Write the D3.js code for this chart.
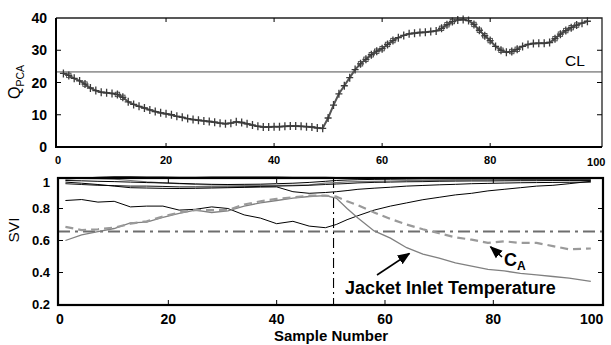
<!DOCTYPE html>
<html><head><meta charset="utf-8">
<script src="https://d3js.org/d3.v7.min.js"></script>
<style>
body{margin:0;background:#fff;}
svg{display:block;font-family:Arial,"Liberation Sans",sans-serif;}
</style></head><body>
<svg id="chart" width="611" height="345"></svg>
<script>
// ---- top panel data: Q statistic per sample ----
var qSamples=d3.range(1,99);
var qValues=[22.8,22.2,21.3,20.5,19.5,18.3,17.5,17.0,16.8,16.6,
  16.3,15.4,14.0,13.2,12.6,12.1,11.5,11.0,10.6,10.3,
  10.0,9.5,9.2,8.8,8.5,8.3,8.1,7.9,7.7,7.4,
  7.2,7.4,7.8,7.6,7.2,6.8,6.4,6.2,6.2,6.3,
  6.3,6.4,6.5,6.5,6.4,6.3,6.2,5.9,5.8,9.0,
  13.0,16.5,19.0,21.5,24.0,25.8,27.2,28.6,29.7,30.5,
  31.8,33.0,33.9,34.6,35.1,35.3,35.5,35.6,35.8,36.0,
  36.8,37.9,38.9,39.4,39.5,39.2,38.0,36.2,34.5,33.0,
  31.2,30.0,29.4,29.6,30.3,31.2,31.8,32.1,32.2,32.2,
  32.4,33.6,35.0,36.1,37.0,37.8,38.4,39.0];
var squareSamples=[2,5,11,12,56,57,58,59,60,61,62,71,72,73,77,78,79,80,82,84,85,92,93,94,95,96];
var controlLimit=23.3;
var qTicksX=[0,20,40,60,80,100];
var qTicksY=[0,10,20,30,40];

// ---- bottom panel data: SVI per variable ----
var sviSamples=[1,4,7,10,13,16,19,22,25,28,31,34,37,40,43,46,49,51,53,55,58,61,64,67,70,73,76,79,82,85,88,91,94,98];
var sviJacket=[0.60,0.635,0.655,0.675,0.71,0.715,0.745,0.77,0.79,0.775,0.785,0.815,0.835,0.85,0.865,0.875,0.88,0.865,0.80,0.74,
  0.66,0.615,0.555,0.515,0.49,0.46,0.44,0.42,0.41,0.395,0.385,0.375,0.365,0.345];
var sviCA=[0.685,0.665,0.67,0.68,0.705,0.72,0.75,0.775,0.79,0.79,0.79,0.825,0.845,0.86,0.87,0.88,0.88,0.875,0.845,0.82,
  0.775,0.735,0.70,0.67,0.645,0.62,0.605,0.585,0.595,0.585,0.585,0.565,0.545,0.55];
var sviVarA=[0.85,0.856,0.84,0.845,0.81,0.815,0.815,0.79,0.795,0.81,0.80,0.76,0.74,0.705,0.72,0.69,0.68,0.70,0.73,0.755,
  0.79,0.815,0.835,0.855,0.87,0.885,0.895,0.91,0.92,0.93,0.94,0.945,0.955,0.97];
var sviVarB=[0.985,0.99,0.995,0.998,0.998,0.997,0.996,0.995,0.995,0.996,0.997,0.997,0.996,0.996,0.995,0.995,0.994,0.993,0.993,0.993,
  0.992,0.992,0.991,0.991,0.990,0.990,0.990,0.989,0.989,0.989,0.988,0.988,0.988,0.988];
var sviVarC=[0.975,0.973,0.97,0.968,0.965,0.962,0.96,0.957,0.954,0.951,0.95,0.951,0.952,0.955,0.958,0.963,0.97,0.975,0.978,0.98,
  0.982,0.983,0.984,0.985,0.985,0.985,0.985,0.985,0.985,0.985,0.985,0.985,0.985,0.985];
var sviVarD=[0.99,0.988,0.986,0.984,0.975,0.966,0.96,0.955,0.95,0.948,0.946,0.945,0.945,0.945,0.945,0.948,0.958,0.962,0.966,0.968,
  0.97,0.972,0.974,0.975,0.976,0.977,0.978,0.978,0.979,0.98,0.98,0.98,0.98,0.98];
var sviVarE=[0.955,0.95,0.945,0.943,0.94,0.94,0.938,0.935,0.935,0.935,0.935,0.936,0.938,0.94,0.942,0.945,0.95,0.953,0.956,0.96,
  0.963,0.965,0.967,0.968,0.97,0.971,0.972,0.972,0.973,0.974,0.974,0.975,0.975,0.975];
var sviVarF=[0.965,0.958,0.95,0.94,0.93,0.928,0.926,0.925,0.926,0.928,0.93,0.932,0.934,0.935,0.905,0.895,0.9,0.905,0.912,0.92,
  0.927,0.933,0.94,0.944,0.948,0.951,0.955,0.957,0.959,0.961,0.962,0.963,0.964,0.965];
var sviLimit=0.656;
var faultSample=50.5;
var sviTicksX=[0,20,40,60,80,100];
var sviTicksY=[0.2,0.4,0.6,0.8,1];

var svg=d3.select('#chart');

// ================= top panel =================
var x1=d3.scaleLinear().domain([-0.37,100.7]).range([56,602]);
var y1=d3.scaleLinear().domain([0,40]).range([147,18]);
var g1=svg.append('g');

g1.append('line').attr('x1',x1(-0.37)).attr('x2',x1(100.7))
  .attr('y1',y1(controlLimit)).attr('y2',y1(controlLimit))
  .attr('stroke','#9a9a9a').attr('stroke-width',1.6);

var qLine=d3.line().x(function(d,i){return x1(qSamples[i]);}).y(function(d){return y1(d);});
g1.append('path').datum(qValues).attr('d',qLine)
  .attr('fill','none').attr('stroke','#555').attr('stroke-width',2);

g1.selectAll('.plus').data(qValues).enter().append('path')
  .attr('d',function(d,i){var cx=x1(qSamples[i]),cy=y1(d);
    return 'M'+(cx-3.5)+','+cy+'H'+(cx+3.5)+'M'+cx+','+(cy-4)+'V'+(cy+4);})
  .attr('stroke','#3a3a3a').attr('stroke-width',1.3).attr('fill','none');

g1.selectAll('.sq').data(squareSamples).enter().append('rect')
  .attr('x',function(s){return x1(s)-2.2;})
  .attr('y',function(s){return y1(qValues[s-1])-2.2;})
  .attr('width',4.4).attr('height',4.4)
  .attr('fill','none').attr('stroke','#444').attr('stroke-width',0.9);

// frame
g1.append('path').attr('d','M'+x1.range()[0]+','+y1.range()[1]+'H'+x1.range()[1]+'V'+y1.range()[0])
  .attr('fill','none').attr('stroke','#222').attr('stroke-width',1.3);
g1.append('path').attr('d','M'+x1.range()[0]+','+y1.range()[1]+'V'+y1.range()[0]+'H'+x1.range()[1])
  .attr('fill','none').attr('stroke','#000').attr('stroke-width',2);

qTicksX.forEach(function(t){
  if(t>0&&t<100){
    g1.append('line').attr('x1',x1(t)).attr('x2',x1(t)).attr('y1',y1(0)).attr('y2',y1(0)-4).attr('stroke','#000');
    g1.append('line').attr('x1',x1(t)).attr('x2',x1(t)).attr('y1',y1(40)).attr('y2',y1(40)+4).attr('stroke','#000');
  }
  g1.append('text').attr('x',x1(t)+(t==100?-2:0)).attr('y',t==100?166:164)
    .attr('text-anchor','middle').attr('font-size',11).attr('font-weight','bold').text(t);
});
qTicksY.forEach(function(t){
  if(t<40){
    g1.append('line').attr('x1',x1.range()[0]).attr('x2',x1.range()[0]+5).attr('y1',y1(t)).attr('y2',y1(t)).attr('stroke','#000');
    g1.append('line').attr('x1',x1.range()[1]).attr('x2',x1.range()[1]-5).attr('y1',y1(t)).attr('y2',y1(t)).attr('stroke','#000');
  }
  g1.append('text').attr('x',47).attr('y',y1(t)+5)
    .attr('text-anchor','end').attr('font-size',14).attr('font-weight','bold').text(t);
});

g1.append('text').attr('x',565).attr('y',66).attr('font-size',15.5).text('CL');

var qLab=g1.append('text').attr('transform','translate(20,82) rotate(-90)')
  .attr('text-anchor','middle').attr('font-size',16);
qLab.append('tspan').text('Q');
qLab.append('tspan').attr('font-size',10.5).attr('dy',4).text('PCA');

// ================= bottom panel =================
var x2=d3.scaleLinear().domain([-0.37,100.25]).range([58,603]);
var y2=d3.scaleLinear().domain([0.2,1.0]).range([304.5,176.5]);
var g2=svg.append('g');

g2.append('line').attr('x1',x2(-0.37)).attr('x2',x2(100.25))
  .attr('y1',y2(sviLimit)).attr('y2',y2(sviLimit))
  .attr('stroke','#6e6e6e').attr('stroke-width',2).attr('stroke-dasharray','12,5,3,5');
g2.append('line').attr('x1',x2(faultSample)).attr('x2',x2(faultSample))
  .attr('y1',178).attr('y2',305)
  .attr('stroke','#000').attr('stroke-width',1.1).attr('stroke-dasharray','10,4,2,4');

var sviLine=d3.line().x(function(d,i){return x2(sviSamples[i]);}).y(function(d){return y2(d);});
var series=[
  {v:sviVarB,c:'#000',w:1.2},
  {v:sviVarD,c:'#777',w:1.2},
  {v:sviVarC,c:'#000',w:1},
  {v:sviVarE,c:'#111',w:1},
  {v:sviVarF,c:'#000',w:1},
  {v:sviVarA,c:'#000',w:1},
  {v:sviJacket,c:'#808080',w:1.3},
  {v:sviCA,c:'#9a9a9a',w:2.2,dash:'8,5'}
];
series.forEach(function(s){
  g2.append('path').datum(s.v).attr('d',sviLine).attr('fill','none')
    .attr('stroke',s.c).attr('stroke-width',s.w)
    .attr('stroke-dasharray',s.dash||null);
});

g2.append('rect').attr('x',58).attr('y',178).attr('width',545).attr('height',127)
  .attr('fill','none').attr('stroke','#000').attr('stroke-width',2.2);

sviTicksX.forEach(function(t){
  if(t>0&&t<100){
    g2.append('line').attr('x1',x2(t)).attr('x2',x2(t)).attr('y1',305).attr('y2',300).attr('stroke','#000');
    g2.append('line').attr('x1',x2(t)).attr('x2',x2(t)).attr('y1',178).attr('y2',183).attr('stroke','#000');
  }
  g2.append('text').attr('x',x2(t)+(t==100?-10:0)).attr('y',324)
    .attr('text-anchor','middle').attr('font-size',14).attr('font-weight','bold').text(t);
});
sviTicksY.forEach(function(t){
  if(t>0.2&&t<1){
    g2.append('line').attr('x1',58).attr('x2',63).attr('y1',y2(t)).attr('y2',y2(t)).attr('stroke','#000');
    g2.append('line').attr('x1',603).attr('x2',598).attr('y1',y2(t)).attr('y2',y2(t)).attr('stroke','#000');
  }
  g2.append('text').attr('x',50).attr('y',(t==1?182:y2(t))+4.5)
    .attr('text-anchor','end').attr('font-size',13).attr('font-weight','bold').text(t);
});

g2.append('text').attr('transform','translate(19,230) rotate(-90)')
  .attr('text-anchor','middle').attr('font-size',15.5).text('SVI');
g2.append('text').attr('x',331).attr('y',341).attr('text-anchor','middle')
  .attr('font-size',15).attr('font-weight','bold').text('Sample Number');

// annotations
var defs=svg.append('defs');
defs.append('marker').attr('id','ah').attr('viewBox','0 0 10 10').attr('refX',9).attr('refY',5)
  .attr('markerWidth',8).attr('markerHeight',8).attr('orient','auto-start-reverse')
  .append('path').attr('d','M0,1L10,5L0,9Z').attr('fill','#000');
g2.append('line').attr('x1',377).attr('y1',275).attr('x2',x2(64.5)).attr('y2',y2(0.55)+5)
  .attr('stroke','#000').attr('stroke-width',1.6).attr('marker-end','url(#ah)');
g2.append('line').attr('x1',502).attr('y1',257).attr('x2',x2(79.5)).attr('y2',y2(0.585)+4)
  .attr('stroke','#000').attr('stroke-width',1.6).attr('marker-end','url(#ah)');
g2.append('text').attr('x',345).attr('y',294).attr('font-size',18).attr('font-weight','bold')
  .text('Jacket Inlet Temperature');
var ca=g2.append('text').attr('x',504).attr('y',266).attr('font-size',18).attr('font-weight','bold');
ca.append('tspan').text('C');
ca.append('tspan').attr('font-size',12).attr('dy',4).text('A');
</script>
</body></html>
